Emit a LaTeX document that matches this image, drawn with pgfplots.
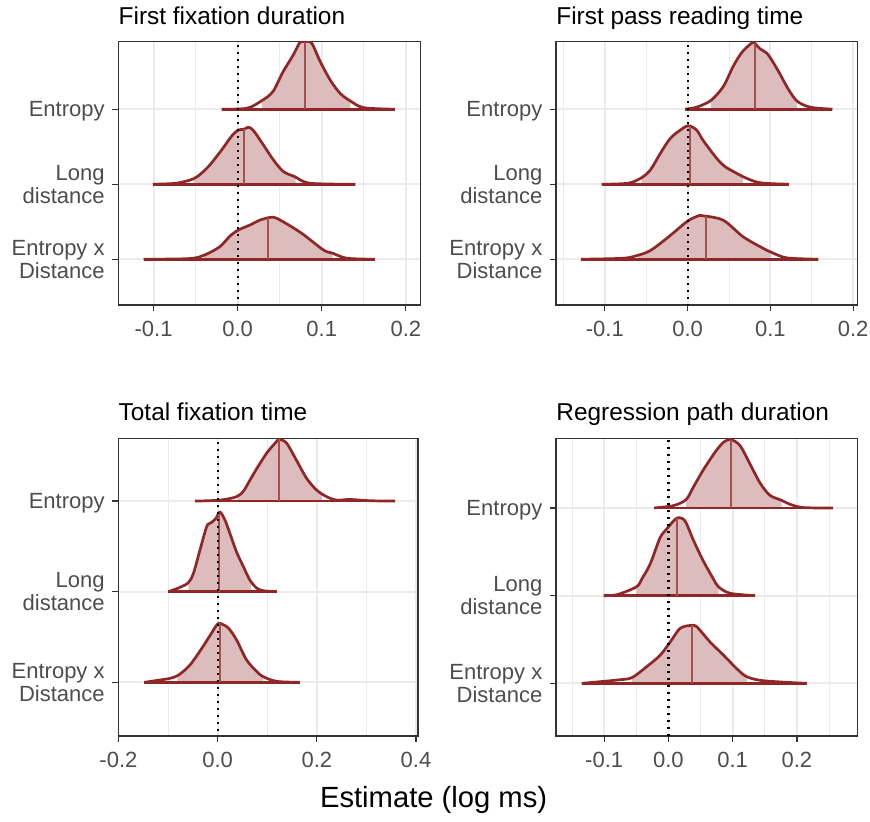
\documentclass[border=0pt]{standalone}
\usepackage{fontspec}
\setmainfont{Liberation Sans}
\usepackage{pgfplots}
\usepackage{pgfplotstable}
\pgfplotsset{compat=1.18}
\usepgfplotslibrary{fillbetween}

\definecolor{outl}{HTML}{8F2727}
\definecolor{medc}{HTML}{A25050}
\definecolor{fillred}{HTML}{DCBCBC}
\definecolor{gridc}{HTML}{EBEBEB}
\definecolor{axc}{HTML}{333333}
\definecolor{tickc}{HTML}{4D4D4D}

% ---------- data: density outlines (x, row + height) ----------
\pgfplotstableread{
x y
-0.019 3
0.011 3.013
0.029 3.116
0.042 3.236
0.054 3.50
0.066 3.72
0.074 3.89
0.080 3.90
0.088 3.88
0.098 3.64
0.110 3.39
0.122 3.21
0.134 3.11
0.150 3.02
0.187 3
}\TAa
\pgfplotstableread{
x y
-0.101 2
-0.073 2.013
-0.053 2.07
-0.043 2.147
-0.033 2.258
-0.019 2.458
-0.007 2.644
0.001 2.724
0.007 2.73
0.0127 2.76
0.0187 2.716
0.0306 2.524
0.0425 2.324
0.0544 2.169
0.068 2.10
0.086 2.013
0.140 2
}\TAb
\pgfplotstableread{
x y
-0.112 1
-0.057 1.009
-0.039 1.058
-0.021 1.169
-0.009 1.311
0.001 1.391
0.015 1.458
0.027 1.524
0.042 1.56
0.054 1.50
0.076 1.347
0.102 1.124
0.113 1.08
0.130 1.013
0.163 1
}\TAc
\pgfplotstableread{
x y
-0.003 3
0.011 3.027
0.028 3.116
0.043 3.30
0.055 3.57
0.065 3.75
0.075 3.86
0.080 3.89
0.087 3.81
0.097 3.73
0.109 3.52
0.121 3.28
0.132 3.11
0.148 3.027
0.175 3
}\TBa
\pgfplotstableread{
x y
-0.104 2
-0.072 2.013
-0.056 2.084
-0.045 2.19
-0.033 2.41
-0.021 2.61
-0.009 2.72
0.001 2.78
0.011 2.72
0.019 2.58
0.035 2.347
0.045 2.236
0.059 2.147
0.067 2.10
0.087 2.02
0.122 2
}\TBb
\pgfplotstableread{
x y
-0.129 1
-0.078 1.013
-0.060 1.053
-0.045 1.116
-0.025 1.28
-0.001 1.50
0.011 1.57
0.018 1.58
0.043 1.52
0.067 1.30
0.091 1.147
0.101 1.093
0.120 1.018
0.158 1
}\TBc
\pgfplotstableread{
x y
-0.046 3
0.005 3.011
0.038 3.048
0.052 3.11
0.065 3.23
0.079 3.36
0.099 3.53
0.116 3.64
0.124 3.68
0.139 3.64
0.159 3.45
0.1795 3.25
0.200 3.12
0.220 3.048
0.240 3.011
0.267 3.018
0.307 3.004
0.358 3
}\TCa
\pgfplotstableread{
x y
-0.0995 2
-0.076 2.048
-0.059 2.10
-0.049 2.20
-0.0356 2.46
-0.022 2.72
-0.0134 2.76
-0.0034 2.81
0.0047 2.88
0.0148 2.79
0.025 2.64
0.038 2.44
0.052 2.276
0.065 2.129
0.0787 2.04
0.092 2.011
0.119 2
}\TCb
\pgfplotstableread{
x y
-0.148 1
-0.116 1.026
-0.096 1.044
-0.079 1.08
-0.056 1.19
-0.032 1.375
-0.015 1.52
-0.002 1.63
0.005 1.65
0.0215 1.60
0.038 1.47
0.058 1.25
0.079 1.118
0.092 1.0625
0.119 1.011
0.166 1
}\TCc
\pgfplotstableread{
x y
-0.022 3
0.008 3.027
0.0275 3.095
0.039 3.24
0.054 3.43
0.073 3.64
0.086 3.75
0.097 3.78
0.1115 3.71
0.127 3.50
0.143 3.28
0.158 3.144
0.176 3.087
0.189 3.042
0.210 3.004
0.256 3
}\TDa
\pgfplotstableread{
x y
-0.101 2
-0.080 2.011
-0.050 2.10
-0.0415 2.19
-0.0285 2.36
-0.013 2.66
-0.0026 2.76
0.0078 2.85
0.0156 2.89
0.026 2.85
0.039 2.63
0.054 2.40
0.070 2.19
0.078 2.10
0.096 2.027
0.135 2
}\TDb
\pgfplotstableread{
x y
-0.135 1
-0.080 1.038
-0.057 1.065
-0.034 1.19
-0.013 1.32
0.0026 1.47
0.018 1.626
0.034 1.66
0.044 1.645
0.065 1.47
0.086 1.32
0.106 1.17
0.122 1.076
0.148 1.03
0.215 1
}\TDc

% #1 table, #2 row, #3 start, #4 end, #5 inner lo, #6 inner hi, #7 median, #8 median top
\newcommand{\ridge}[8]{%
  \addplot[draw=none, smooth, name path=c#2] table {#1};
  \addplot[draw=none, name path=b#2] coordinates {(#3,#2) (#4,#2)};
  \addplot[fill=fillred, draw=none] fill between[of=c#2 and b#2, soft clip={domain=#5:#6}];
  \addplot[draw=outl, line width=1.35bp, smooth, line join=round] table {#1};
  \addplot[draw=outl, line width=1.35bp] coordinates {(#3,#2) (#4,#2)};
  \addplot[draw=medc, line width=1bp] coordinates {(#7,#2) (#7,#8)};
}
\newcommand{\zeroline}{%
  \addplot[black, line width=1.1bp, dash pattern=on 1.1bp off 2.4bp] coordinates {(0,0) (0,4)};
}

\pgfplotsset{
  ridgeax/.style={
    scale only axis,
    anchor=south west,
    axis line style={draw=axc, line width=0.6bp},
    tick style={draw=axc, line width=0.6bp},
    tick align=outside,
    tick pos=left,
    major tick length=3bp,
    minor tick length=0pt,
    xmajorgrids=true, xminorgrids=true, ymajorgrids=true,
    major grid style={draw=gridc, line width=0.9bp},
    minor grid style={draw=gridc, line width=0.5bp},
    ytick={1,2,3},
    yticklabels={{Entropy x\\Distance},{Long\\distance},{Entropy}},
    yticklabel style={align=right, inner sep=0pt, text depth=0pt,
      font=\fontsize{11bp}{11.7bp}\selectfont, text=tickc},
    xticklabel style={inner sep=0pt, font=\fontsize{11bp}{11.7bp}\selectfont, text=tickc},
    xticklabel shift=4.85bp,
    yticklabel shift=3.65bp,
    every axis title/.style={at={(0,1)}, anchor=base west, yshift=8.8bp, inner sep=0pt,
      font=\fontsize{12.2bp}{14bp}\selectfont, text=black},
  }
}

\begin{document}
\begin{tikzpicture}
% Panel A
\begin{axis}[ridgeax, at={(59.15bp,258.5bp)}, width=150.9bp, height=131.65bp,
  xmin=-0.142, xmax=0.217, ymin=0.39, ymax=3.90,
  xtick={-0.1,0,0.1,0.2}, xticklabels={-0.1,0.0,0.1,0.2},
  minor xtick={-0.05,0.05,0.15},
  title={First fixation duration}]
\ridge{\TAa}{3}{-0.019}{0.187}{0.029}{0.134}{0.080}{3.90}
\ridge{\TAb}{2}{-0.101}{0.140}{-0.052}{0.069}{0.007}{2.73}
\ridge{\TAc}{1}{-0.112}{0.163}{-0.040}{0.113}{0.0365}{1.545}
\zeroline
\end{axis}
% Panel B
\begin{axis}[ridgeax, at={(278bp,258.5bp)}, width=150.65bp, height=131.65bp,
  xmin=-0.159, xmax=0.205, ymin=0.39, ymax=3.90,
  xtick={-0.1,0,0.1,0.2}, xticklabels={-0.1,0.0,0.1,0.2},
  minor xtick={-0.15,-0.05,0.05,0.15},
  title={First pass reading time}]
\ridge{\TBa}{3}{-0.003}{0.175}{0.028}{0.132}{0.081}{3.885}
\ridge{\TBb}{2}{-0.104}{0.122}{-0.056}{0.067}{0.003}{2.775}
\ridge{\TBc}{1}{-0.129}{0.158}{-0.060}{0.101}{0.0217}{1.578}
\zeroline
\end{axis}
% Panel C
\begin{axis}[ridgeax, at={(59.15bp,43bp)}, width=149.85bp, height=148.85bp,
  xmin=-0.2003, xmax=0.404, ymin=0.408, ymax=3.693,
  xtick={-0.2,0,0.2,0.4}, xticklabels={-0.2,0.0,0.2,0.4},
  minor xtick={-0.1,0.1,0.3},
  title={Total fixation time}]
\ridge{\TCa}{3}{-0.046}{0.358}{0.040}{0.210}{0.124}{3.68}
\ridge{\TCb}{2}{-0.0995}{0.119}{-0.059}{0.067}{0.003}{2.86}
\ridge{\TCc}{1}{-0.148}{0.166}{-0.081}{0.092}{0.005}{1.65}
\zeroline
\end{axis}
% Panel D
\begin{axis}[ridgeax, at={(278bp,43bp)}, width=150.65bp, height=148.85bp,
  xmin=-0.175, xmax=0.294, ymin=0.40, ymax=3.794,
  xtick={-0.1,0,0.1,0.2}, xticklabels={-0.1,0.0,0.1,0.2},
  minor xtick={-0.15,-0.05,0.05,0.15,0.25},
  title={Regression path duration}]
\ridge{\TDa}{3}{-0.022}{0.256}{0.0275}{0.176}{0.097}{3.78}
\ridge{\TDb}{2}{-0.101}{0.135}{-0.050}{0.078}{0.014}{2.88}
\ridge{\TDc}{1}{-0.135}{0.215}{-0.057}{0.122}{0.036}{1.66}
\zeroline
\end{axis}
\node[anchor=base, inner sep=0pt, font=\fontsize{14.6bp}{16bp}\selectfont] at (216.8bp,7.3bp) {Estimate (log ms)};
\pgfresetboundingbox
\path[use as bounding box] (0,0) rectangle (435bp,411bp);
\end{tikzpicture}
\end{document}
